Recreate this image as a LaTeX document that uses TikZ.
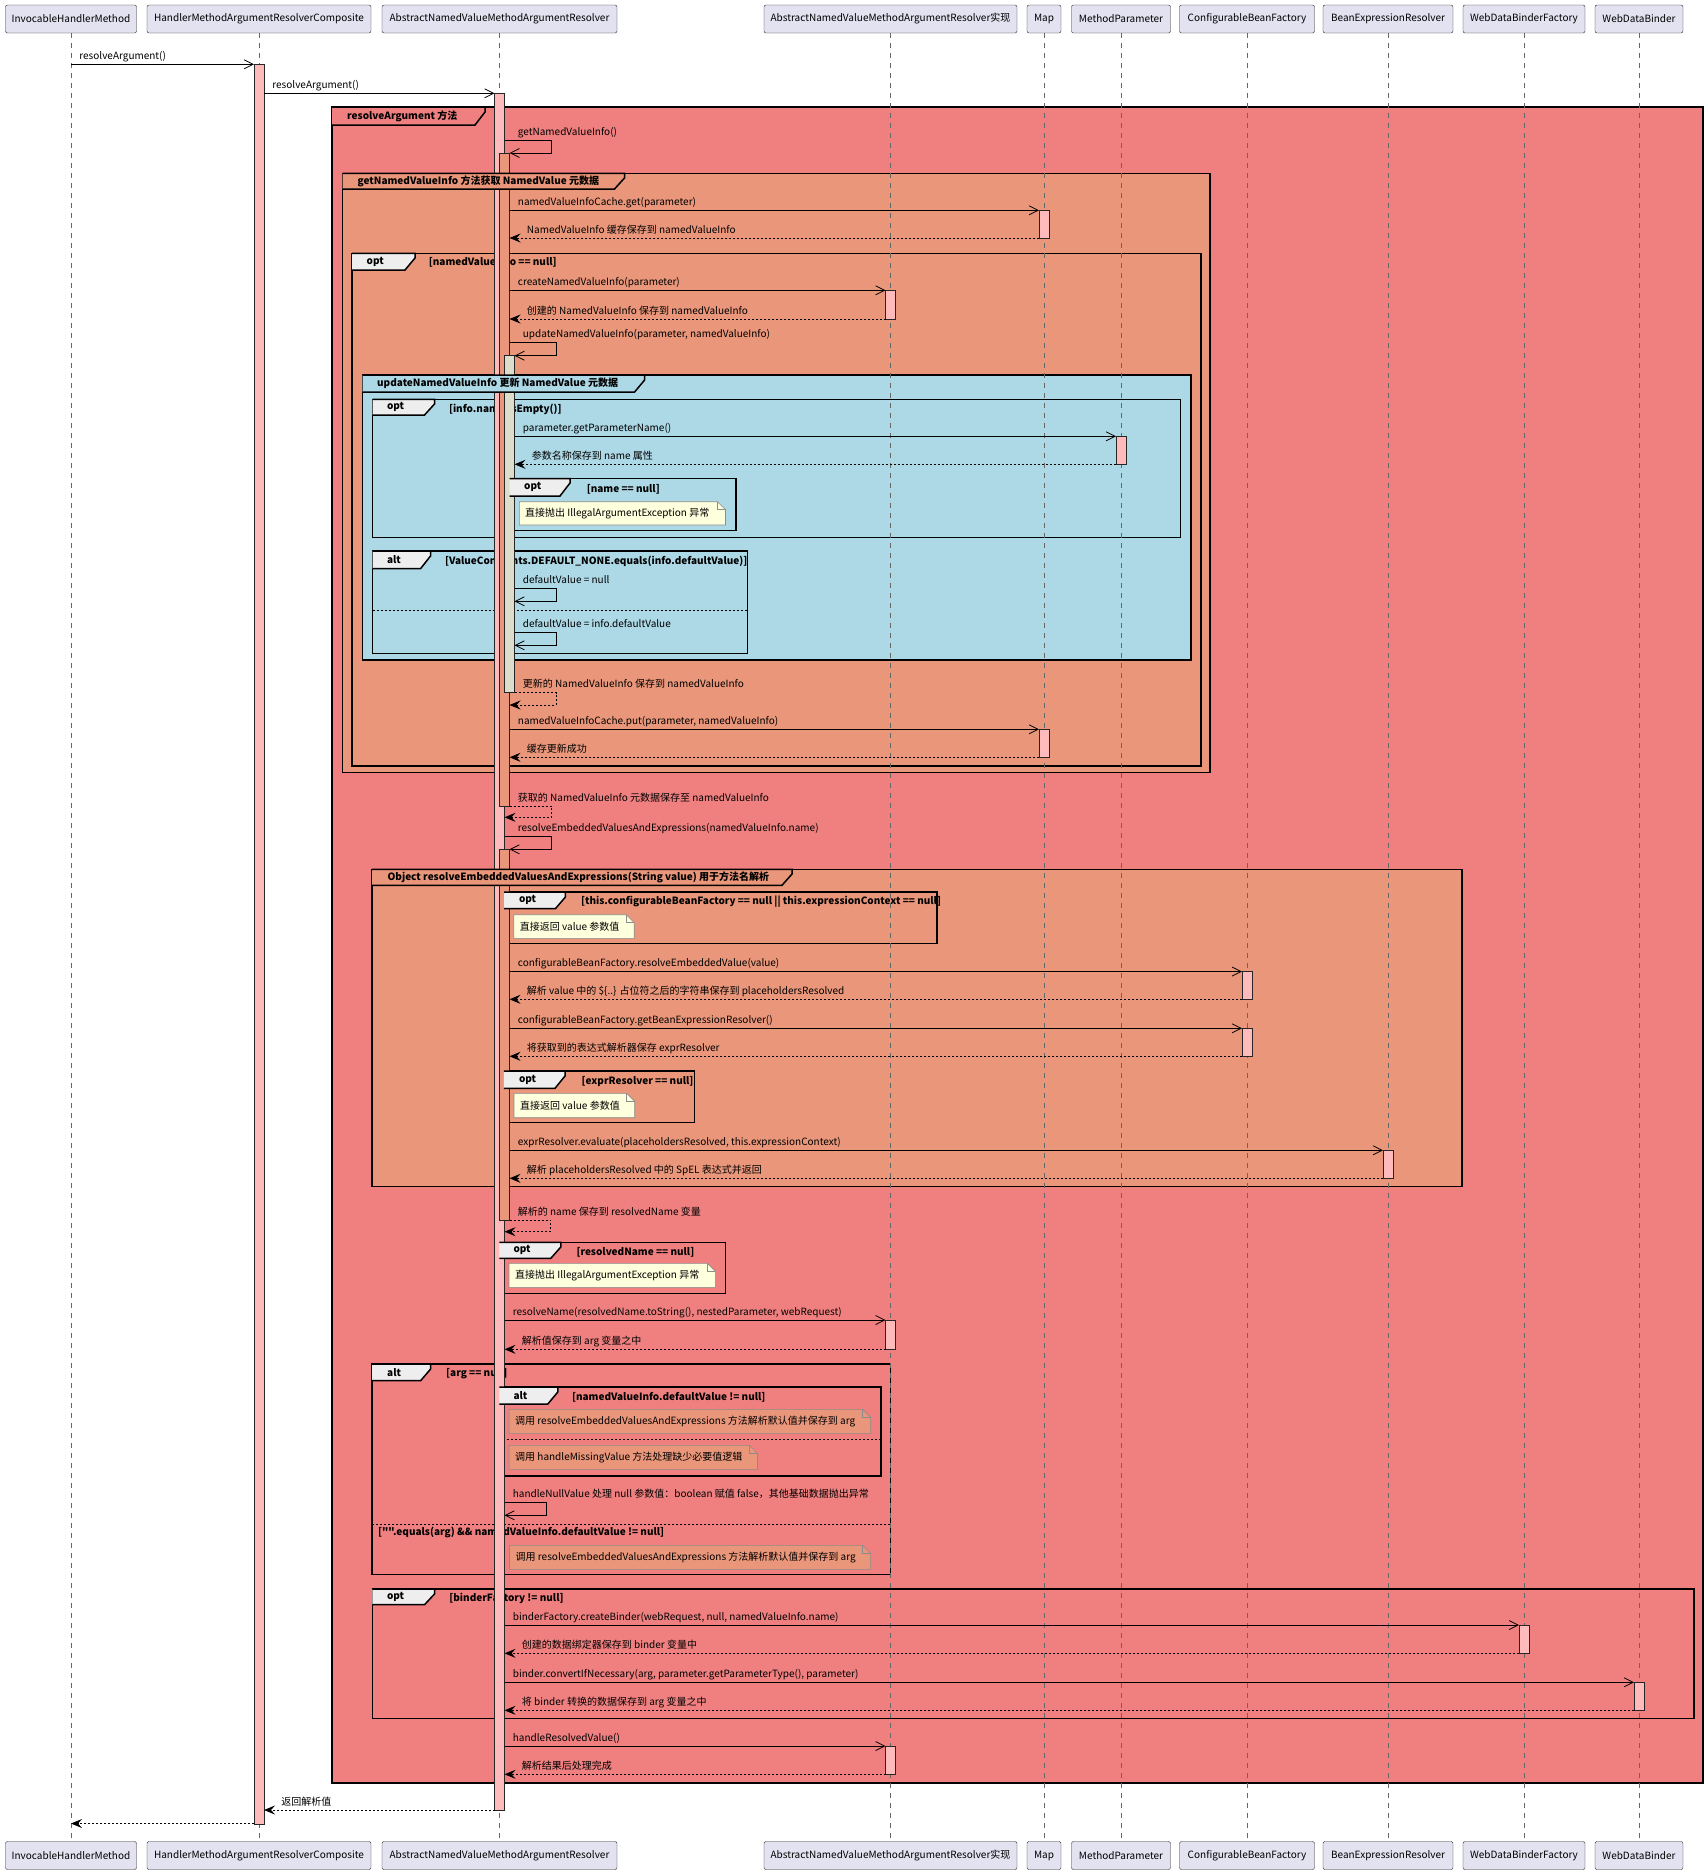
\documentclass[tikz,border=0pt]{standalone}
\usepackage{fontspec}
\setmainfont{Noto Sans CJK SC}[Ligatures=TeXOff]
\usetikzlibrary{arrows.meta}

\definecolor{partfill}{HTML}{E2E2F0}
\definecolor{actpink}{HTML}{FFBBBB}
\definecolor{actbeige}{HTML}{DDDDCC}
\definecolor{grpcoral}{HTML}{F08080}
\definecolor{grpsalmon}{HTML}{E9967A}
\definecolor{grpblue}{HTML}{ADD8E6}
\definecolor{tabgray}{HTML}{EEEEEE}
\definecolor{noteyellow}{HTML}{FEFFDD}

\begin{document}
\begin{tikzpicture}[x=1pt, y=-1pt, font=\fontsize{10}{12}\selectfont,
	part/.style={draw=black!85, fill=partfill, rounded corners=2pt, minimum height=28pt, inner sep=0pt},
	life/.style={draw=black!60, line width=0.6pt, dash pattern=on 5pt off 5pt},
	bar/.style={draw=black!85, line width=0.7pt, fill=actpink},
	msg/.style={line width=0.8pt, -{Straight Barb[length=9pt, width=9pt]}},
	ret/.style={line width=0.8pt, dash pattern=on 2pt off 2pt, -{Stealth[length=11pt, width=9pt, inset=4pt]}},
	lbl/.style={anchor=base west, inner sep=0pt, xshift=8pt, yshift=5pt},
	rlbl/.style={anchor=base west, inner sep=0pt, xshift=17pt, yshift=5pt},
	grp/.style={draw=black, line width=1.5pt},
	gtitle/.style={anchor=west, inner sep=0pt, font=\fontsize{10}{12}\selectfont\bfseries},
	sep/.style={line width=0.8pt, dash pattern=on 2pt off 2pt},
	note/.style={draw=black!45, line width=0.6pt, fill=noteyellow},
	ntext/.style={anchor=west, inner sep=0pt},
	]
	\useasboundingbox (0,0) rectangle (1708,1874);

	% participants, top and bottom
	\foreach \n/\x/\w/\t in {ihm/71/131/InvocableHandlerMethod, hmc/259/224/HandlerMethodArgumentResolverComposite, anv/499.5/235/AbstractNamedValueMethodArgumentResolver, imp/890.5/253/AbstractNamedValueMethodArgumentResolver实现, map/1044/34/Map, mp/1121/99/MethodParameter, cbf/1247/135/ConfigurableBeanFactory, ber/1388/130/BeanExpressionResolver, wdbf/1524/122/WebDataBinderFactory, wdb/1639/88/WebDataBinder}{
		\node[part, minimum width=\w] (\n) at (\x,19) {\t};
		\node[part, minimum width=\w] (\n-b) at (\x,1855.5) {\t};
	}

	% bar edges
	\coordinate (hmcL) at (254,0);
	\coordinate (hmcR) at (264,0);
	\coordinate (anv0) at (494.5,0);
	\coordinate (anv1) at (504.5,0);
	\coordinate (anv2) at (509.5,0);
	\coordinate (anv3) at (514.5,0);
	\coordinate (impL) at (885.5,0);
	\coordinate (mapL) at (1039,0);
	\coordinate (mpL) at (1116,0);
	\coordinate (cbfL) at (1242,0);
	\coordinate (berL) at (1383,0);
	\coordinate (wdbfL) at (1519,0);
	\coordinate (wdbL) at (1634,0);

	% group frames
	\draw[grp, fill=grpcoral] (332,107) rectangle (1703,1783);
	\draw[grp, fill=grpsalmon] (342.5,173.3) rectangle (1210,772.7);
	\draw[grp] (352,253.3) rectangle (1201,766);
	\draw[grp, fill=grpblue] (362.7,375) rectangle (1191,660);
	\draw[grp] (372.5,399.3) rectangle (1180.7,537.3);
	\draw[grp] (509.7,478.7) rectangle (735.9,530.7);
	\draw[grp] (372.5,551) rectangle (747.3,653.7);
	\draw[sep] (372.5,610) -- (747.3,610);
	\draw[grp, fill=grpsalmon] (372,869.3) rectangle (1462,1186.7);
	\draw[grp] (504,892) rectangle (936.8,943.7);
	\draw[grp] (503.8,1071) rectangle (694.6,1122.7);
	\draw[grp] (499.4,1242.3) rectangle (725.7,1293.7);
	\draw[grp] (372,1364) rectangle (890.7,1574.3);
	\draw[sep] (372,1524.3) -- (890.7,1524.3);
	\draw[grp] (499.4,1387) rectangle (881,1476);
	\draw[sep] (499.4,1439.3) -- (881,1439.3);
	\draw[grp] (372.4,1589) rectangle (1693.8,1718.7);

	% guards
	\node[gtitle] (c3) at (428.7,262.5) {[namedValueInfo == null]};
	\node[gtitle] (c5) at (448.8,409) {[info.name.isEmpty()]};
	\node[gtitle] (c6) at (586.6,489) {[name == null]};
	\node[gtitle] (c7) at (444.8,561.3) {[ValueConstants.DEFAULT\_NONE.equals(info.defaultValue)]};
	\node[gtitle] (c9) at (580.9,902) {[this.configurableBeanFactory == null || this.expressionContext == null]};
	\node[gtitle] (c10) at (581.5,1081) {[exprResolver == null]};
	\node[gtitle] (c11) at (576.3,1252) {[resolvedName == null]};
	\node[gtitle] (c12) at (446,1374) {[arg == null]};
	\node[gtitle] (c12b) at (377.8,1532.7) {["".equals(arg) \&\& namedValueInfo.defaultValue != null]};
	\node[gtitle] (c13) at (571.9,1397.3) {[namedValueInfo.defaultValue != null]};
	\node[gtitle] (c14) at (449.2,1598.7) {[binderFactory != null]};

	% lifelines
	\foreach \n in {ihm,hmc,anv,imp,map,mp,cbf,ber,wdbf,wdb}
		\draw[life] (\n.south) -- (\n-b.north);

	% activations
	\draw[bar] (254,64.3) rectangle (264,1824);
	\draw[bar] (494.5,93.3) rectangle (504.5,1810);
	\draw[bar, fill=grpsalmon] (499.5,153) rectangle (509.5,806);
	\draw[bar, fill=actbeige] (504.5,355.7) rectangle (514.5,692.5);
	\draw[bar, fill=grpsalmon] (499.5,849.3) rectangle (509.5,1220);
	\draw[bar] (1039,210.3) rectangle (1049,238);
	\draw[bar] (1039,729.3) rectangle (1049,757.3);
	\draw[bar] (885.5,290.3) rectangle (895.5,319);
	\draw[bar] (885.5,1320) rectangle (895.5,1349.3);
	\draw[bar] (885.5,1746) rectangle (895.5,1774.3);
	\draw[bar] (1116,436.3) rectangle (1126,464.3);
	\draw[bar] (1242,971.5) rectangle (1252,999.3);
	\draw[bar] (1242,1028.3) rectangle (1252,1056.3);
	\draw[bar] (1383,1150.3) rectangle (1393,1178.3);
	\draw[bar] (1519,1625) rectangle (1529,1653.3);
	\draw[bar] (1634,1682.3) rectangle (1644,1710.3);

	% group tabs
	\draw[grp, fill=grpcoral] (332,107) -- (485,107) -- (485,112) -- (475,125) -- (332,125);
	\node[gtitle] (g1) at (347,116) {resolveArgument 方法};
	\draw[grp, fill=grpsalmon] (342.5,173.3) -- (624.5,173.3) -- (624.5,178) -- (614.5,189) -- (342.5,189);
	\node[gtitle] (g2) at (357.5,181) {getNamedValueInfo 方法获取 NamedValue 元数据};
	\draw[grp, fill=tabgray] (352,253.3) -- (415,253.3) -- (415,258) -- (405,270) -- (352,270);
	\node[gtitle] (g3) at (366.5,261.7) {opt};
	\draw[grp, fill=grpblue] (362.7,375) -- (644.6,375) -- (644.6,380) -- (634.6,392) -- (362.7,392);
	\node[gtitle] (g4) at (377,383.5) {updateNamedValueInfo 更新 NamedValue 元数据};
	\draw[grp, fill=tabgray] (372.5,399.3) -- (434.5,399.3) -- (434.5,404) -- (424.5,415) -- (372.5,415);
	\node[gtitle] (g5) at (386.8,407.2) {opt};
	\draw[grp, fill=tabgray] (509.7,478.7) -- (570,478.7) -- (570,483) -- (560,496) -- (509.7,496);
	\node[gtitle] (g6) at (524,487.3) {opt};
	\draw[grp, fill=tabgray] (372.5,551) -- (430.5,551) -- (430.5,556) -- (420.5,568.7) -- (372.5,568.7);
	\node[gtitle] (g7) at (386.8,559.8) {alt};
	\draw[grp, fill=grpsalmon] (372,869.3) -- (792,869.3) -- (792,874) -- (782,885.3) -- (372,885.3);
	\node[gtitle] (g8) at (387.4,877.3) {Object resolveEmbeddedValuesAndExpressions(String value) 用于方法名解析};
	\draw[grp, fill=tabgray] (504,892) -- (565.4,892) -- (565.4,897) -- (555.4,908.7) -- (504,908.7);
	\node[gtitle] (g9) at (518.9,900.3) {opt};
	\draw[grp, fill=tabgray] (503.8,1071) -- (565,1071) -- (565,1076) -- (555,1088.3) -- (503.8,1088.3);
	\node[gtitle] (g10) at (518.9,1079.6) {opt};
	\draw[grp, fill=tabgray] (499.4,1242.3) -- (560.8,1242.3) -- (560.8,1247) -- (550.8,1258.3) -- (499.4,1258.3);
	\node[gtitle] (g11) at (513.4,1250.3) {opt};
	\draw[grp, fill=tabgray] (372,1364) -- (430.6,1364) -- (430.6,1369) -- (420.6,1380.7) -- (372,1380.7);
	\node[gtitle] (g12) at (387,1372.3) {alt};
	\draw[grp, fill=tabgray] (499.4,1387) -- (557.8,1387) -- (557.8,1392) -- (547.8,1404) -- (499.4,1404);
	\node[gtitle] (g13) at (513.4,1395.5) {alt};
	\draw[grp, fill=tabgray] (372.4,1589) -- (434.5,1589) -- (434.5,1594) -- (424.5,1604.7) -- (372.4,1604.7);
	\node[gtitle] (g14) at (386.8,1596.8) {opt};

	% messages
	\draw[msg] (ihm |- 0,64.3) node[lbl] (m1) {resolveArgument()} -- (hmcL |- 0,64.3);
	\draw[msg] (hmcR |- 0,93.3) node[lbl] (m2) {resolveArgument()} -- (anv0 |- 0,93.3);
	\draw[msg] (anv1 |- 0,140.7) node[lbl, xshift=5pt] (m3) {getNamedValueInfo()} -- ++(47,0) -- ++(0,12.3) -- (anv2 |- 0,153);
	\draw[msg] (anv2 |- 0,210.3) node[lbl] (m4) {namedValueInfoCache.get(parameter)} -- (mapL |- 0,210.3);
	\draw[ret] (mapL |- 0,238) -- (anv2 |- 0,238) node[rlbl] (m5) {NamedValueInfo 缓存保存到 namedValueInfo};
	\draw[msg] (anv2 |- 0,290.3) node[lbl] (m6) {createNamedValueInfo(parameter)} -- (impL |- 0,290.3);
	\draw[ret] (impL |- 0,319) -- (anv2 |- 0,319) node[rlbl] (m7) {创建的 NamedValueInfo 保存到 namedValueInfo};
	\draw[msg] (anv2 |- 0,342.7) node[lbl, xshift=5pt] (m8) {updateNamedValueInfo(parameter, namedValueInfo)} -- ++(46.5,0) -- ++(0,13) -- (anv3 |- 0,355.7);
	\draw[msg] (anv3 |- 0,436.3) node[lbl] (m9) {parameter.getParameterName()} -- (mpL |- 0,436.3);
	\draw[ret] (mpL |- 0,464.3) -- (anv3 |- 0,464.3) node[rlbl] (m10) {参数名称保存到 name 属性};
	\draw[msg] (anv3 |- 0,588.7) node[lbl] (m11) {defaultValue = null} -- ++(41.7,0) -- ++(0,12.6) -- (anv3 |- 0,601.3);
	\draw[msg] (anv3 |- 0,632.7) node[lbl] (m12) {defaultValue = info.defaultValue} -- ++(41.7,0) -- ++(0,12.6) -- (anv3 |- 0,645.3);
	\draw[ret] (anv3 |- 0,692.5) node[lbl] (m13) {更新的 NamedValueInfo 保存到 namedValueInfo} -- ++(41.7,0) -- ++(0,12.5) -- (anv2 |- 0,705);
	\draw[msg] (anv2 |- 0,729.3) node[lbl] (m14) {namedValueInfoCache.put(parameter, namedValueInfo)} -- (mapL |- 0,729.3);
	\draw[ret] (mapL |- 0,757.3) -- (anv2 |- 0,757.3) node[rlbl] (m15) {缓存更新成功};
	\draw[ret] (anv2 |- 0,806) node[lbl] (m16) {获取的 NamedValueInfo 元数据保存至 namedValueInfo} -- ++(42,0) -- ++(0,11.3) -- (anv1 |- 0,817.3);
	\draw[msg] (anv1 |- 0,836.7) node[lbl, xshift=5pt] (m17) {resolveEmbeddedValuesAndExpressions(namedValueInfo.name)} -- ++(47,0) -- ++(0,12.6) -- (anv2 |- 0,849.3);
	\draw[msg] (anv2 |- 0,971.5) node[lbl] (m18) {configurableBeanFactory.resolveEmbeddedValue(value)} -- (cbfL |- 0,971.5);
	\draw[ret] (cbfL |- 0,999.3) -- (anv2 |- 0,999.3) node[rlbl] (m19) {解析 value 中的 \$\{..\} 占位符之后的字符串保存到 placeholdersResolved};
	\draw[msg] (anv2 |- 0,1028.3) node[lbl] (m20) {configurableBeanFactory.getBeanExpressionResolver()} -- (cbfL |- 0,1028.3);
	\draw[ret] (cbfL |- 0,1056.3) -- (anv2 |- 0,1056.3) node[rlbl] (m21) {将获取到的表达式解析器保存 exprResolver};
	\draw[msg] (anv2 |- 0,1150.3) node[lbl] (m22) {exprResolver.evaluate(placeholdersResolved, this.expressionContext)} -- (berL |- 0,1150.3);
	\draw[ret] (berL |- 0,1178.3) -- (anv2 |- 0,1178.3) node[rlbl] (m23) {解析 placeholdersResolved 中的 SpEL 表达式并返回};
	\draw[ret] (anv2 |- 0,1220) node[lbl] (m24) {解析的 name 保存到 resolvedName 变量} -- ++(41,0) -- ++(0,11.7) -- (anv1 |- 0,1231.7);
	\draw[msg] (anv1 |- 0,1320) node[lbl] (m25) {resolveName(resolvedName.toString(), nestedParameter, webRequest)} -- (impL |- 0,1320);
	\draw[ret] (impL |- 0,1349.3) -- (anv1 |- 0,1349.3) node[rlbl] (m26) {解析值保存到 arg 变量之中};
	\draw[msg] (anv1 |- 0,1502.7) node[lbl] (m27) {handleNullValue 处理 null 参数值：boolean 赋值 false，其他基础数据抛出异常} -- ++(41.5,0) -- ++(0,12.6) -- (anv1 |- 0,1515.3);
	\draw[msg] (anv1 |- 0,1625) node[lbl] (m28) {binderFactory.createBinder(webRequest, null, namedValueInfo.name)} -- (wdbfL |- 0,1625);
	\draw[ret] (wdbfL |- 0,1653.3) -- (anv1 |- 0,1653.3) node[rlbl] (m29) {创建的数据绑定器保存到 binder 变量中};
	\draw[msg] (anv1 |- 0,1682.3) node[lbl] (m30) {binder.convertIfNecessary(arg, parameter.getParameterType(), parameter)} -- (wdbL |- 0,1682.3);
	\draw[ret] (wdbL |- 0,1710.3) -- (anv1 |- 0,1710.3) node[rlbl] (m31) {将 binder 转换的数据保存到 arg 变量之中};
	\draw[msg] (anv1 |- 0,1746) node[lbl] (m32) {handleResolvedValue()} -- (impL |- 0,1746);
	\draw[ret] (impL |- 0,1774.3) -- (anv1 |- 0,1774.3) node[rlbl] (m33) {解析结果后处理完成};
	\draw[ret] (anv0 |- 0,1810) -- (hmcR |- 0,1810) node[rlbl] (m34) {返回解析值};
	\draw[ret] (hmcL |- 0,1823.5) -- (ihm |- 0,1823.5);

	% notes
	\draw[note] (519.4,501.7) -- (717.5,501.7) -- (725.5,509.7) -- (725.5,525) -- (519.4,525) -- cycle;
	\draw[note, fill=none] (717.5,501.7) -- (717.5,509.7) -- (725.5,509.7);
	\node[ntext] (n1) at (525,513.3) {直接抛出 IllegalArgumentException 异常};

	\draw[note] (513.7,914.7) -- (626.2,914.7) -- (634.2,922.7) -- (634.2,938.3) -- (513.7,938.3) -- cycle;
	\draw[note, fill=none] (626.2,914.7) -- (626.2,922.7) -- (634.2,922.7);
	\node[ntext] (n2) at (519.7,926.5) {直接返回 value 参数值};

	\draw[note] (514,1093.3) -- (626.7,1093.3) -- (634.7,1101.3) -- (634.7,1117.7) -- (514,1117.7) -- cycle;
	\draw[note, fill=none] (626.7,1093.3) -- (626.7,1101.3) -- (634.7,1101.3);
	\node[ntext] (n3) at (520,1105.5) {直接返回 value 参数值};

	\draw[note] (509,1263.3) -- (707.4,1263.3) -- (715.4,1271.3) -- (715.4,1287.3) -- (509,1287.3) -- cycle;
	\draw[note, fill=none] (707.4,1263.3) -- (707.4,1271.3) -- (715.4,1271.3);
	\node[ntext] (n4) at (515,1275.3) {直接抛出 IllegalArgumentException 异常};

	\draw[note, fill=grpsalmon] (509,1409.3) -- (862.7,1409.3) -- (870.7,1417.3) -- (870.7,1433.3) -- (509,1433.3) -- cycle;
	\draw[note, fill=none] (862.7,1409.3) -- (862.7,1417.3) -- (870.7,1417.3);
	\node[ntext] (n5) at (515,1421.3) {调用 resolveEmbeddedValuesAndExpressions 方法解析默认值并保存到 arg};

	\draw[note, fill=grpsalmon] (509,1445.3) -- (749.5,1445.3) -- (757.5,1453.3) -- (757.5,1469.3) -- (509,1469.3) -- cycle;
	\draw[note, fill=none] (749.5,1445.3) -- (749.5,1453.3) -- (757.5,1453.3);
	\node[ntext] (n6) at (515,1457.3) {调用 handleMissingValue 方法处理缺少必要值逻辑};

	\draw[note, fill=grpsalmon] (509.5,1545.3) -- (862.6,1545.3) -- (870.6,1553.3) -- (870.6,1569.3) -- (509.5,1569.3) -- cycle;
	\draw[note, fill=none] (862.6,1545.3) -- (862.6,1553.3) -- (870.6,1553.3);
	\node[ntext] (n7) at (515.5,1557.3) {调用 resolveEmbeddedValuesAndExpressions 方法解析默认值并保存到 arg};
\end{tikzpicture}
\end{document}
